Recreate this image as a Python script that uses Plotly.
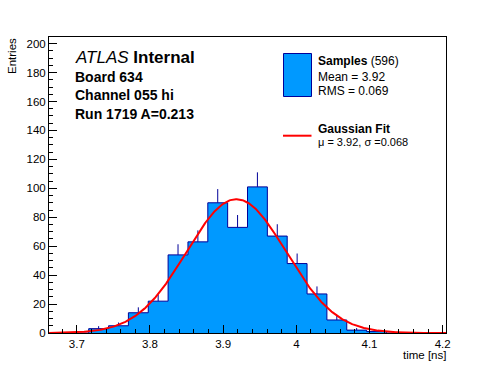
import numpy as np
import plotly.graph_objects as go

# ---- data ----
x_min, x_max = 3.662, 4.2045
n_bins = 20
counts = [0, 0, 3, 5, 14, 22, 54, 63, 90, 73, 101, 67, 48, 27, 9, 2, 1, 0, 0, 0]
fit_mu, fit_sigma, fit_amp = 3.918, 0.068, 92.5
x_ticks = [3.7, 3.8, 3.9, 4.0, 4.1, 4.2]
x_tick_text = ["3.7", "3.8", "3.9", "4", "4.1", "4.2"]
y_ticks = [0, 20, 40, 60, 80, 100, 120, 140, 160, 180, 200]
y_max = 204.6

edges = np.linspace(x_min, x_max, n_bins + 1)
centers = 0.5 * (edges[:-1] + edges[1:])
errs = np.sqrt(np.array(counts, dtype=float))

FILL = "#0099ff"
EDGE = "#000099"
FONT = "Liberation Sans, Arial, Helvetica, sans-serif"

W, H = 496, 372
L, R, T, B = 49, 50, 37, 39
PW, PH = W - L - R, H - T - B


def px(x):
    return (x - L) / PW


def py(y):
    return (H - B - y) / PH


fig = go.Figure()

# error bars (upward part only visible)
fig.add_trace(go.Scatter(
    x=centers, y=counts, mode="markers",
    marker=dict(size=1, color="rgba(0,0,0,0)"),
    error_y=dict(type="data", symmetric=False, array=errs, arrayminus=[0] * n_bins,
                 color=EDGE, thickness=1, width=0),
    hoverinfo="skip", showlegend=False))

# filled step histogram
fig.add_trace(go.Scatter(
    x=list(edges), y=list(counts) + [counts[-1]],
    mode="lines", line=dict(shape="hv", color=EDGE, width=1),
    fill="tozeroy", fillcolor=FILL, showlegend=False))

# gaussian fit
xf = np.linspace(x_min, x_max, 500)
yf = fit_amp * np.exp(-0.5 * ((xf - fit_mu) / fit_sigma) ** 2)
fig.add_trace(go.Scatter(x=xf, y=yf, mode="lines",
                         line=dict(color="#ff0000", width=2), showlegend=False))

annotations = []


def txt(x, y, s, size, xanchor="left", angle=0, yanchor="middle"):
    annotations.append(dict(x=px(x), y=py(y), xref="paper", yref="paper", text=s,
                            showarrow=False, xanchor=xanchor, yanchor=yanchor,
                            textangle=angle, borderpad=0,
                            font=dict(family=FONT, size=size, color="black")))


txt(74, 57.5, "<i>ATLAS</i> <b>Internal</b>", 17)
txt(74, 76.8, "<b>Board 634</b>", 14)
txt(74, 95, "<b>Channel 055 hi</b>", 14)
txt(74, 113.8, "<b>Run 1719 A=0.213</b>", 14)

txt(317, 61.3, "<b>Samples</b> (596)", 12)
txt(317, 77, "Mean = 3.92", 12)
txt(317, 90.6, "RMS = 0.069", 12)
txt(317, 128.8, "<b>Gaussian Fit</b>", 12)
txt(317, 142, "μ = 3.92, σ =0.068", 11)

txt(446.5, 355, "time [ns]", 11.5, xanchor="right")
annotations.append(dict(x=px(12), y=py(37), xref="paper", yref="paper", text="Entries",
                        showarrow=False, xanchor="center", yanchor="top", textangle=-90,
                        borderpad=0, font=dict(family=FONT, size=11.5, color="black")))

shapes = [
    dict(type="rect", xref="paper", yref="paper", x0=px(283.5), x1=px(311.5),
         y0=py(96.5), y1=py(53.5), fillcolor=FILL, line=dict(color=EDGE, width=1)),
    dict(type="line", xref="paper", yref="paper", x0=px(283), x1=px(311.5),
         y0=py(135.7), y1=py(135.7), line=dict(color="#ff0000", width=2)),
]

fig.update_layout(
    width=W, height=H, margin=dict(l=L, r=R, t=T, b=B, pad=0),
    paper_bgcolor="white", plot_bgcolor="white",
    font=dict(family=FONT, size=11.5, color="black"),
    annotations=annotations, shapes=shapes, showlegend=False,
    xaxis=dict(range=[x_min, x_max], tickvals=x_ticks, ticktext=x_tick_text,
               ticks="inside", ticklen=8, tickcolor="black", showgrid=False, zeroline=False,
               showline=True, linecolor="black", linewidth=1, mirror=True,
               minor=dict(dtick=0.02, tick0=3.7, ticks="inside", ticklen=4, tickcolor="black", showgrid=False),
               tickfont=dict(size=11.5)),
    yaxis=dict(range=[0, y_max], tickvals=y_ticks, ticks="inside", ticklen=8,
               tickcolor="black", showgrid=False, zeroline=False,
               showline=True, linecolor="black", linewidth=1, mirror=True,
               minor=dict(dtick=5, tick0=0, ticks="inside", ticklen=4, tickcolor="black", showgrid=False),
               tickfont=dict(size=11.5)),
)

fig.write_html("out.html", config={"displayModeBar": False},
               post_script="document.body.style.margin='0';document.body.style.overflow='hidden';")
